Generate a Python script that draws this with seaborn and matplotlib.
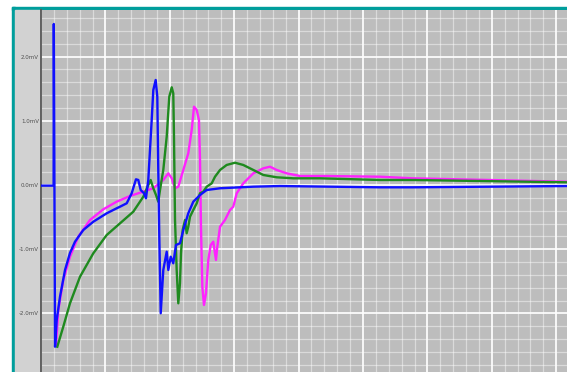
import matplotlib
matplotlib.use("Agg")
import matplotlib.pyplot as plt
from matplotlib.patches import Rectangle
from matplotlib.ticker import MultipleLocator
import numpy as np
import pandas as pd
import seaborn as sns

# Time (grid divisions) and potential (mV) for the three recorded traces
blue_t = [0.000, 0.196, 0.199, 0.218, 0.244, 0.295, 0.373, 0.450, 0.528, 0.657,
          0.812, 1.020, 1.175, 1.227, 1.331, 1.408, 1.475, 1.511, 1.548, 1.599,
          1.630, 1.666, 1.719, 1.744, 1.781, 1.806, 1.821, 1.837, 1.859, 1.899,
          1.952, 1.977, 2.014, 2.054, 2.096, 2.158, 2.210, 2.287, 2.365, 2.469,
          2.573, 2.780, 3.297, 3.711, 5.264, 5.776, 8.168]
blue_v = [-0.010, -0.010, 2.508, -2.519, -2.103, -1.740, -1.324, -1.059, -0.883, -0.701,
          -0.572, -0.441, -0.363, -0.338, -0.285, -0.129, 0.089, 0.078, -0.078, -0.129,
          -0.207, 0.078, 1.012, 1.480, 1.636, 1.375, 0.234, -0.805, -1.998, -1.324,
          -1.039, -1.324, -1.117, -1.220, -0.935, -0.908, -0.701, -0.441, -0.260, -0.156,
          -0.078, -0.051, -0.026, -0.016, -0.036, -0.036, -0.016]

pink_t = [0.233, 0.269, 0.346, 0.450, 0.579, 0.761, 0.967, 1.175, 1.382, 1.537,
          1.744, 1.899, 1.977, 2.030, 2.081, 2.132, 2.210, 2.287, 2.340, 2.376,
          2.418, 2.453, 2.469, 2.484, 2.505, 2.531, 2.562, 2.598, 2.635, 2.675,
          2.717, 2.738, 2.780, 2.857, 2.935, 2.986, 3.039, 3.141, 3.297, 3.452,
          3.556, 3.660, 3.815, 4.022, 4.436, 5.264, 5.776, 8.168]
pink_v = [-2.492, -1.947, -1.480, -1.117, -0.805, -0.545, -0.379, -0.260, -0.171, -0.120,
          -0.051, 0.078, 0.182, 0.104, -0.051, -0.026, 0.234, 0.494, 0.857, 1.220,
          1.168, 1.012, 0.389, -0.650, -1.584, -1.869, -1.687, -1.168, -0.935, -0.883,
          -1.168, -0.961, -0.650, -0.545, -0.389, -0.338, -0.129, 0.026, 0.182, 0.260,
          0.285, 0.234, 0.182, 0.140, 0.140, 0.129, 0.104, 0.051]

green_t = [0.253, 0.346, 0.450, 0.606, 0.812, 1.020, 1.227, 1.433, 1.589, 1.666,
           1.703, 1.744, 1.786, 1.821, 1.848, 1.899, 1.952, 1.992, 2.030, 2.054,
           2.065, 2.081, 2.107, 2.132, 2.158, 2.174, 2.200, 2.236, 2.262, 2.287,
           2.314, 2.365, 2.418, 2.469, 2.520, 2.573, 2.651, 2.702, 2.780, 2.883,
           3.012, 3.141, 3.297, 3.452, 3.660, 3.918, 4.332, 5.264, 5.776, 8.168]
green_v = [-2.519, -2.207, -1.843, -1.428, -1.064, -0.779, -0.597, -0.416, -0.182, 0.000,
           0.078, -0.051, -0.156, -0.260, -0.078, 0.234, 0.752, 1.375, 1.522, 1.428,
           0.752, -0.545, -1.324, -1.843, -1.531, -1.064, -0.701, -0.545, -0.752, -0.650,
           -0.494, -0.389, -0.285, -0.129, -0.104, -0.026, 0.026, 0.129, 0.234, 0.312,
           0.347, 0.312, 0.234, 0.156, 0.120, 0.104, 0.104, 0.078, 0.078, 0.042]

ytick_values = [-2.0, -1.0, 0.0, 1.0, 2.0]
ytick_labels = ["-2.0mV", "-1.0mV", "0.0mV", "1.0mV", "2.0mV"]

frames = []
for name, t, v in [("magenta", pink_t, pink_v), ("green", green_t, green_v), ("blue", blue_t, blue_v)]:
    frames.append(pd.DataFrame({"t": t, "v": v, "trace": name}))
df = pd.concat(frames, ignore_index=True)

W, H = 567, 372
fig = plt.figure(figsize=(W / 100, H / 100), dpi=100, facecolor="white")

# teal frame and label strip behind the axes
teal = "#009e9c"
for rect in [
    Rectangle((11.5 / W, 0), 3.5 / W, (H - 6.5) / H),
    Rectangle((11.5 / W, (H - 10) / H), (W - 11.5) / W, 3.5 / H),
]:
    rect.set(transform=fig.transFigure, color=teal, zorder=-5)
    fig.patches.append(rect)
strip = Rectangle((15 / W, 0), 26 / W, (H - 10) / H,
                  transform=fig.transFigure, color="#d2d2d2", zorder=-5)
fig.patches.append(strip)

ax = fig.add_axes([41 / W, 0, (W - 41) / W, (H - 10) / H])
ax.set_zorder(2)
ax.set_facecolor("#bdbdbd")

sns.lineplot(data=df, x="t", y="v", hue="trace", hue_order=["magenta", "green", "blue"],
             palette={"magenta": "#ff22ff", "green": "#1f8a1f", "blue": "#1010ff"},
             sort=False, estimator=None, legend=False, linewidth=1.7, ax=ax, zorder=3)

ax.set_xlim(0, 8.168)
ax.set_ylim(-2.913, 2.726)
ax.xaxis.set_major_locator(MultipleLocator(1.0))
ax.xaxis.set_minor_locator(MultipleLocator(0.2))
ax.set_yticks(ytick_values)
ax.set_yticklabels(ytick_labels)
ax.yaxis.set_minor_locator(MultipleLocator(0.2))
ax.grid(which="major", color="white", linewidth=1.3, alpha=0.95, zorder=1)
ax.grid(which="minor", color="white", linewidth=0.9, alpha=0.45, zorder=1)
ax.set_axisbelow(True)
ax.tick_params(axis="x", which="both", length=0, labelbottom=False)
ax.tick_params(axis="y", which="both", length=0, pad=1.5, labelsize=4, labelcolor="#505050")
ax.set_xlabel("")
ax.set_ylabel("")
for side in ["top", "right", "bottom"]:
    ax.spines[side].set_visible(False)
ax.spines["left"].set_color("#555555")
ax.spines["left"].set_linewidth(1.3)

fig.savefig("out.png", dpi=100, facecolor="white")
